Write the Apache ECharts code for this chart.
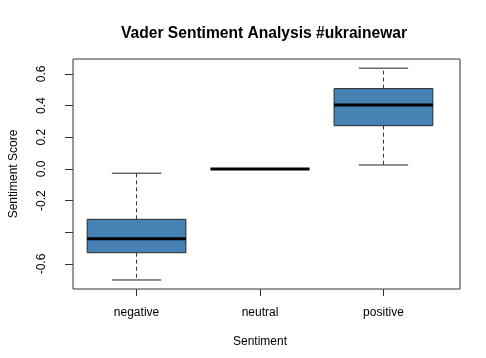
<!DOCTYPE html>
<html>
<head>
<meta charset="utf-8">
<script src="https://cdn.jsdelivr.net/npm/echarts@6/dist/echarts.min.js"></script>
<style>html,body{margin:0;padding:0;background:#fff;}#c{width:486px;height:358px;}</style>
</head>
<body>
<div id="c"></div>
<script>
var categories = ['negative', 'neutral', 'positive'];
var lowerWhisker = [-0.701, 0.0, 0.025];
var q1 = [-0.529, 0.0, 0.273];
var median = [-0.440, 0.0, 0.404];
var q3 = [-0.318, 0.0, 0.507];
var upperWhisker = [-0.027, 0.0, 0.636];
var yTicks = [-0.6, -0.4, -0.2, 0.0, 0.2, 0.4, 0.6];
var yLabels = [-0.6, -0.2, 0.0, 0.2, 0.4, 0.6];
var yMin = -0.758, yMax = 0.694;

var data = categories.map(function (c, i) {
  return [i, lowerWhisker[i], q1[i], median[i], q3[i], upperWhisker[i]];
});

var font = 'Liberation Sans, Arial, sans-serif';

function renderBox(params, api) {
  var idx = api.value(0);
  var bw = api.size([1, 0])[0];
  var half = bw * 0.4;
  var capHalf = bw * 0.2;
  var pLo = api.coord([idx, api.value(1)]);
  var pQ1 = api.coord([idx, api.value(2)]);
  var pMed = api.coord([idx, api.value(3)]);
  var pQ3 = api.coord([idx, api.value(4)]);
  var pHi = api.coord([idx, api.value(5)]);
  var x = pMed[0];
  var dash = {stroke: '#333', lineWidth: 1, lineDash: [4, 3]};
  var solid = {stroke: '#222', lineWidth: 1};
  return {
    type: 'group',
    children: [
      {type: 'line', shape: {x1: x, y1: pQ3[1], x2: x, y2: pHi[1]}, style: dash},
      {type: 'line', shape: {x1: x, y1: pQ1[1], x2: x, y2: pLo[1]}, style: dash},
      {type: 'line', shape: {x1: x - capHalf, y1: pHi[1], x2: x + capHalf, y2: pHi[1]}, style: solid},
      {type: 'line', shape: {x1: x - capHalf, y1: pLo[1], x2: x + capHalf, y2: pLo[1]}, style: solid},
      {type: 'rect', shape: {x: x - half, y: pQ3[1], width: half * 2, height: pQ1[1] - pQ3[1]},
        style: {fill: '#4682B4', stroke: '#2a2a2a', lineWidth: 1}},
      {type: 'line', shape: {x1: x - half, y1: pMed[1], x2: x + half, y2: pMed[1]},
        style: {stroke: '#000', lineWidth: 3}}
    ]
  };
}

var chart = echarts.init(document.getElementById('c'), null, {renderer: 'canvas'});
chart.setOption({
  animation: false,
  backgroundColor: '#fff',
  title: {
    text: 'Vader Sentiment Analysis #ukrainewar',
    left: 259, top: 21, textAlign: 'center',
    textStyle: {fontFamily: font, fontSize: 15.6, fontWeight: 'bold', color: '#000'}
  },
  grid: [
    {left: 60, top: 59, width: 400, height: 230, show: true, borderColor: '#333', borderWidth: 1, backgroundColor: 'transparent'},
    {left: 74.8, top: 59, width: 370.4, height: 230}
  ],
  xAxis: [
    {type: 'value', gridIndex: 0, show: false, min: 0, max: 1},
    {type: 'category', gridIndex: 1, data: categories, boundaryGap: true, position: 'bottom',
      name: 'Sentiment', nameLocation: 'middle', nameGap: 47,
      nameTextStyle: {fontFamily: font, fontSize: 12, color: '#000'},
      axisLine: {show: false, onZero: false},
      axisTick: {show: true, alignWithLabel: true, length: 7, lineStyle: {color: '#333'}},
      axisLabel: {margin: 18, fontFamily: font, fontSize: 12, color: '#000'},
      splitLine: {show: false}}
  ],
  yAxis: [
    {type: 'value', gridIndex: 0, min: yMin, max: yMax,
      name: 'Sentiment Score', nameLocation: 'middle', nameRotate: 90, nameGap: 53,
      nameTextStyle: {fontFamily: font, fontSize: 12, color: '#000'},
      axisLine: {show: false, onZero: false},
      axisTick: {show: true, length: 8, customValues: yTicks, lineStyle: {color: '#333'}},
      axisLabel: {rotate: 90, margin: 25, customValues: yLabels, fontFamily: font, fontSize: 12, color: '#000',
        formatter: function (v) { return Number(v).toFixed(1); }},
      splitLine: {show: false}},
    {type: 'value', gridIndex: 1, min: yMin, max: yMax, show: false, splitLine: {show: false}}
  ],
  series: [{
    type: 'custom',
    xAxisIndex: 1, yAxisIndex: 1,
    renderItem: renderBox,
    encode: {x: 0, y: [1, 2, 3, 4, 5]},
    data: data
  }]
});
</script>
</body>
</html>
